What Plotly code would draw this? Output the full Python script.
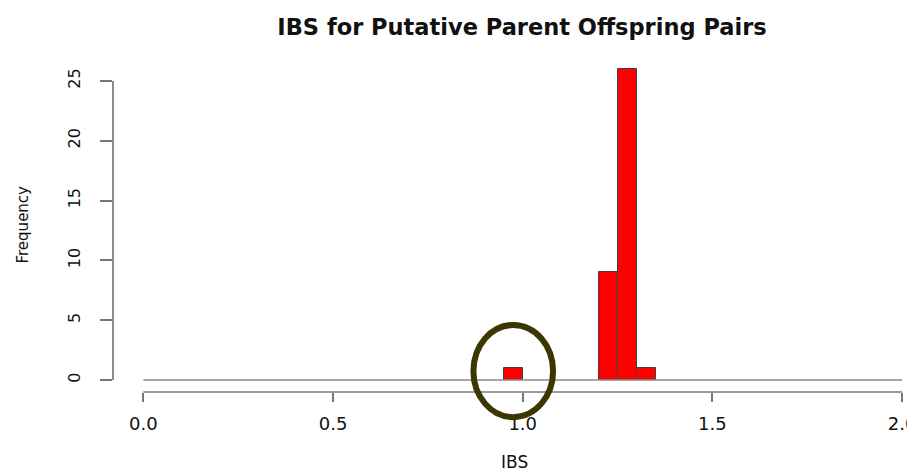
import plotly.graph_objects as go

# ---- data ----
bin_width = 0.05
bin_starts = [round(i * bin_width, 2) for i in range(40)]   # 0.00 .. 1.95
counts = [0] * 40
counts[19] = 1    # 0.95 - 1.00
counts[24] = 9    # 1.20 - 1.25
counts[25] = 26   # 1.25 - 1.30
counts[26] = 1    # 1.30 - 1.35

x_ticks = [0.0, 0.5, 1.0, 1.5, 2.0]
x_tick_text = ["0.0", "0.5", "1.0", "1.5", "2.0"]
y_ticks = [0, 5, 10, 15, 20, 25]

title_text = "IBS for Putative Parent Offspring Pairs"
x_title = "IBS"
y_title = "Frequency"

# ---- layout constants ----
OFF = 8  # page body margin in the browser
X_RANGE = [-0.08, 2.034]
Y_RANGE = [-1.0, 27.0]
FONT = "DejaVu Sans"
AXIS_COL = "#777777"
TEXT_COL = "#111111"
W, H = 915 - OFF, 472 - OFF
ML, MR, MT, MB = 113 - OFF, 0, 57 - OFF, 80
PW, PH = W + OFF - 113 - MR, H - MT - MB
PW = W - ML - MR


def yp(v):
    return (v - Y_RANGE[0]) / (Y_RANGE[1] - Y_RANGE[0])


centers = [s + bin_width / 2 for s in bin_starts]
edges_lo = bin_starts[0]
edges_hi = bin_starts[-1] + bin_width

fig = go.Figure()

# baseline (zero-height bins)
fig.add_trace(go.Scatter(
    x=[edges_lo, edges_hi], y=[0, 0], mode="lines",
    line=dict(color="#8a8a8a", width=1.6), hoverinfo="skip", showlegend=False))

fig.add_trace(go.Bar(
    x=[c for c, n in zip(centers, counts) if n > 0],
    y=[n for n in counts if n > 0],
    width=bin_width,
    marker=dict(color="#ff0000", line=dict(color="#404040", width=1)),
    showlegend=False))

# R-style axis lines
fig.add_shape(type="line", xref="x", yref="paper", x0=x_ticks[0], x1=x_ticks[-1],
              y0=0, y1=0, line=dict(color=AXIS_COL, width=1.7))
fig.add_shape(type="line", xref="paper", yref="y", x0=0, x1=0,
              y0=y_ticks[0], y1=y_ticks[-1], line=dict(color=AXIS_COL, width=1.7))

# highlight ellipse around the single bar near 1.0
fig.add_shape(type="circle", xref="x", yref="paper",
              x0=0.975 - 0.105, x1=0.975 + 0.105,
              y0=yp(0.75 - 3.85), y1=yp(0.75 + 3.85),
              line=dict(color="#3b3700", width=6))

# window-pixel positions converted to figure coordinates
fig.add_annotation(text=x_title, xref="paper", yref="paper",
                   x=(514 - 113) / PW, y=(472 - MB - 462) / PH,
                   showarrow=False, font=dict(family=FONT, size=17, color=TEXT_COL),
                   xanchor="center", yanchor="middle")
fig.add_annotation(text=y_title, xref="paper", yref="paper",
                   x=(22 - 113) / PW, y=0.5, textangle=-90,
                   showarrow=False, font=dict(family=FONT, size=15, color=TEXT_COL),
                   xanchor="center", yanchor="middle")

fig.update_layout(
    width=W, height=H,
    margin=dict(l=ML, r=MR, t=MT, b=MB, autoexpand=False),
    paper_bgcolor="white", plot_bgcolor="white",
    title=dict(text="<b>" + title_text + "</b>", xref="container", yref="container",
               x=(522 - OFF) / W, y=1 - (27 - OFF) / H, xanchor="center", yanchor="middle",
               font=dict(family=FONT, size=22.5, color=TEXT_COL)),
    bargap=0,
    xaxis=dict(range=X_RANGE, showgrid=False, zeroline=False, showline=False,
               automargin=False, ticklabeloverflow="allow",
               tickvals=x_ticks, ticktext=x_tick_text, ticks="outside", ticklen=9,
               tickwidth=1.7, tickcolor=AXIS_COL, ticklabelstandoff=6,
               tickfont=dict(family=FONT, size=18, color=TEXT_COL)),
    yaxis=dict(range=Y_RANGE, showgrid=False, zeroline=False, showline=False,
               automargin=False, ticklabeloverflow="allow",
               tickvals=y_ticks, ticks="outside", ticklen=12, tickangle=-90,
               tickwidth=1.7, tickcolor=AXIS_COL, ticklabelstandoff=14,
               tickfont=dict(family=FONT, size=16, color=TEXT_COL)),
)

fig.write_html("out.html")
